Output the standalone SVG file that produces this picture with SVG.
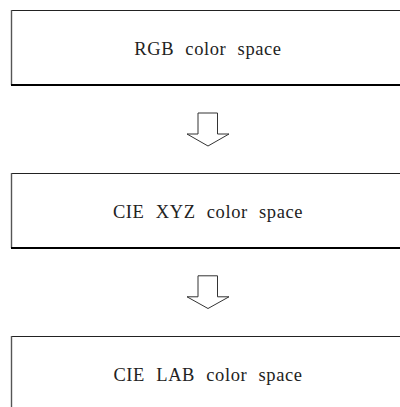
<svg xmlns="http://www.w3.org/2000/svg" width="400" height="407" viewBox="0 0 400 407">
<style>
.top{stroke:#222;stroke-width:1;fill:none}
.left{stroke:#555;stroke-width:1.4;fill:none}
.bot{stroke:#000;stroke-width:2.2;fill:none}
.lbl{font-family:"Liberation Serif","Times New Roman",serif;font-size:18.5px;letter-spacing:0.6px;word-spacing:6px;fill:#222;text-anchor:middle}
.arr{fill:#fff;stroke:#333;stroke-width:1;stroke-linejoin:miter}
</style>
<rect width="400" height="407" fill="#fff"/>
<g id="node-rgb">
<line class="top" x1="11" y1="10.5" x2="400" y2="10.5"/>
<line class="left" x1="11.5" y1="10" x2="11.5" y2="85"/>
<line class="bot" x1="11" y1="85" x2="400" y2="85"/>
<text class="lbl" x="208" y="55">RGB color space</text>
</g>
<g id="node-xyz">
<line class="top" x1="11" y1="173.5" x2="400" y2="173.5"/>
<line class="left" x1="11.5" y1="173" x2="11.5" y2="248"/>
<line class="bot" x1="11" y1="248" x2="400" y2="248"/>
<text class="lbl" x="208" y="218">CIE XYZ color space</text>
</g>
<g id="node-lab">
<line class="top" x1="11" y1="336.5" x2="400" y2="336.5"/>
<line class="left" x1="11.5" y1="336" x2="11.5" y2="407"/>
<text class="lbl" x="208" y="380.5">CIE LAB color space</text>
</g>
<g id="connectors">
<polygon class="arr" points="198,113 217.5,113 217.5,134 229,134 208,146 187,134 198,134"/>
<polygon class="arr" points="198,275.8 217.5,275.8 217.5,296.8 229,296.8 208,308.5 187,296.8 198,296.8"/>
</g>
</svg>
